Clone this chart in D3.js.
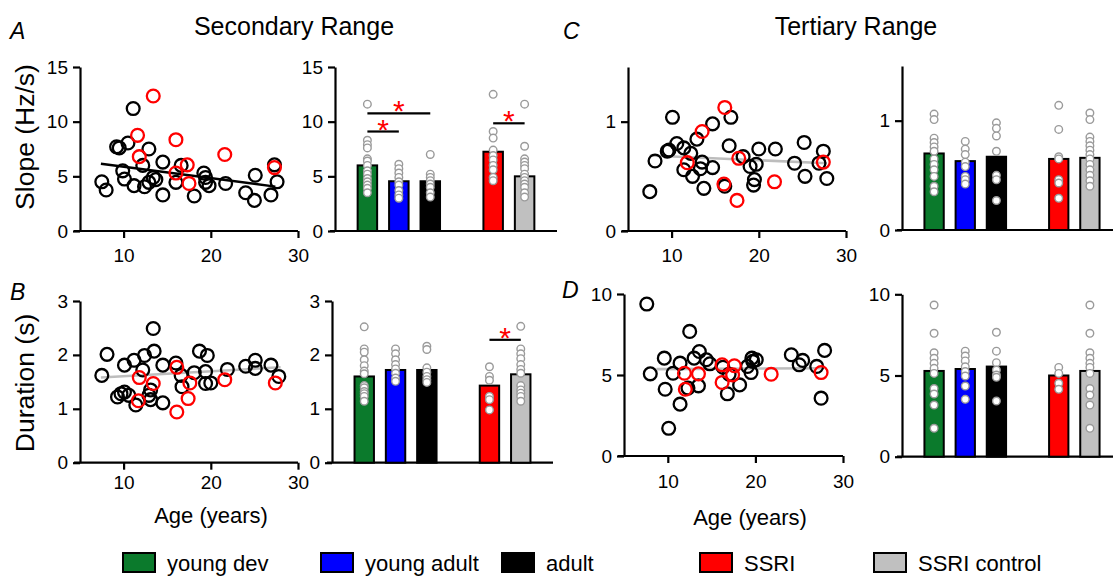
<!DOCTYPE html>
<html><head><meta charset="utf-8">
<script src="https://cdn.jsdelivr.net/npm/d3@7"></script>
<style>
body{margin:0;background:#fff;}
svg{display:block;}
</style></head><body>
<svg id="fig" width="1113" height="576"></svg>
<script>
// ---------- data ----------
const groups = ["young dev", "young adult", "adult", "SSRI", "SSRI control"];
const groupColors = ["#0b7a2c", "#0000ff", "#000000", "#ff0000", "#c0c0c0"];
// bar slots: an empty slot separates the age groups from the SSRI comparison
const barSlots = ["young dev", "young adult", "adult", "gap", "SSRI", "SSRI control"];
const ageTicks = [10, 20, 30];

// Secondary range – slope (Hz/s) vs age
const slopeControls = [[7.5,4.5],[8.0,3.75],[9.2,7.7],[9.5,7.6],[10.5,8.05],[9.9,5.5],[10.1,4.75],[11.1,11.2],[11.2,4.15],[12.2,6.0],[12.4,4.05],[12.9,7.5],[12.9,4.45],[13.4,4.9],[13.7,4.7],[14.5,6.3],[14.5,3.3],[16.0,4.45],[16.6,6.0],[18.1,3.2],[19.2,5.3],[19.4,4.9],[19.4,4.45],[19.8,4.15],[21.7,4.35],[24.0,3.5],[25.0,2.8],[25.1,5.1],[26.9,3.3],[27.3,6.05],[27.6,4.5]];
const slopeSSRI = [[13.4,12.35],[11.6,8.75],[11.8,6.8],[16.0,8.35],[16.0,5.3],[17.3,6.05],[17.5,4.35],[21.6,7.0],[27.3,5.8]];
const slopeFit = [[7.4,6.15],[27.4,4.06]];
const slopeMeans = [6.0, 4.55, 4.55, 7.25, 5.0];
const slopeDots = [
  [11.6, 8.3, 7.9, 7.6, 6.6, 6.4, 6.0, 5.5, 5.2, 4.8, 4.5, 4.2, 3.9, 3.5],
  [6.1, 5.7, 5.3, 4.9, 4.5, 4.2, 3.7, 3.3, 3.0],
  [7.0, 5.2, 4.9, 4.6, 4.3, 4.0, 3.5, 3.1],
  [12.5, 9.1, 8.5, 7.4, 6.9, 6.5, 6.0, 5.6, 4.9, 4.6],
  [11.6, 7.75, 6.6, 6.3, 6.0, 5.7, 5.2, 4.9, 4.6, 4.3, 4.0, 3.5, 3.1]
];
const slopeSig = [
  {from: "young dev", to: "adult", y: 10.75},
  {from: "young dev", to: "young adult", y: 9.1},
  {from: "SSRI", to: "SSRI control", y: 9.85}
];

// Secondary range – duration (s) vs age
const durControls = [[7.5,1.62],[8.1,2.01],[10.1,1.81],[11.2,1.90],[12.4,1.99],[12.2,1.72],[13.4,2.49],[13.5,2.07],[14.5,1.81],[16.0,1.85],[16.6,1.62],[16.7,1.41],[18.1,1.67],[18.7,2.07],[19.6,1.99],[19.4,1.69],[19.4,1.47],[20.0,1.48],[21.9,1.73],[24.0,1.79],[25.1,1.90],[25.1,1.75],[26.9,1.81],[27.8,1.60],[9.3,1.22],[9.7,1.28],[10.1,1.31],[10.6,1.25],[11.4,1.07],[12.9,1.25],[13.1,1.17],[14.5,1.11],[13.1,1.35]];
const durSSRI = [[11.8,1.58],[11.7,1.15],[13.4,1.47],[16.1,1.77],[16.1,0.94],[17.4,1.19],[17.6,1.48],[21.6,1.54],[27.4,1.48]];
const durFit = [[7.4,1.58],[28.0,1.77]];
const durMeans = [1.6, 1.72, 1.72, 1.43, 1.64];
const durDots = [
  [2.52, 2.11, 2.05, 1.91, 1.80, 1.70, 1.65, 1.43, 1.39, 1.32, 1.28, 1.23, 1.14],
  [2.11, 2.02, 1.91, 1.82, 1.74, 1.66, 1.57, 1.51],
  [2.16, 2.10, 1.76, 1.68, 1.60, 1.54, 1.49],
  [1.78, 1.60, 1.53, 1.23, 1.17, 0.98],
  [2.53, 2.11, 2.02, 1.93, 1.82, 1.73, 1.66, 1.43, 1.35, 1.29, 1.23, 1.14]
];
const durSig = [{from: "SSRI", to: "SSRI control", y: 2.28}];

// Tertiary range – slope vs age
const tSlopeControls = [[7.5,0.36],[8.1,0.64],[9.5,0.73],[9.7,0.74],[10.1,1.04],[10.6,0.80],[11.4,0.76],[12.2,0.71],[11.4,0.56],[12.4,0.50],[12.9,0.84],[13.5,0.63],[13.3,0.57],[13.7,0.39],[14.7,0.58],[14.7,0.98],[16.1,0.41],[16.6,0.78],[16.8,1.04],[18.2,0.68],[19.0,0.59],[19.7,0.61],[20.0,0.75],[19.5,0.47],[19.4,0.42],[21.9,0.75],[24.1,0.62],[25.2,0.81],[25.3,0.50],[27.4,0.73],[27.8,0.48],[26.9,0.62]];
const tSlopeSSRI = [[16.1,1.13],[13.5,0.91],[11.8,0.625],[17.7,0.665],[16.0,0.43],[17.5,0.28],[21.8,0.45],[27.4,0.63]];
const tSlopeFit = [[7.5,0.69],[27.8,0.62]];
const tSlopeMeans = [0.70, 0.63, 0.67, 0.65, 0.66];
const tSlopeDots = [
  [1.06, 1.01, 0.84, 0.80, 0.76, 0.72, 0.65, 0.60, 0.55, 0.49, 0.40, 0.35],
  [0.81, 0.74, 0.69, 0.62, 0.58, 0.49, 0.46, 0.42],
  [0.98, 0.93, 0.86, 0.72, 0.50, 0.46, 0.27],
  [1.14, 0.92, 0.67, 0.65, 0.46, 0.43, 0.29],
  [1.07, 1.01, 0.85, 0.81, 0.77, 0.73, 0.69, 0.65, 0.60, 0.55, 0.50, 0.45, 0.40]
];

// Tertiary range – duration vs age
const tDurControls = [[7.6,9.38],[8.0,5.07],[9.6,6.04],[9.7,4.12],[10.1,1.71],[10.6,5.11],[11.4,5.73],[11.4,3.2],[12.5,7.69],[12.3,4.19],[13.0,6.04],[13.6,6.45],[13.5,4.33],[14.4,5.94],[14.8,5.69],[16.3,5.48],[16.8,3.84],[17.0,5.05],[18.2,4.39],[19.1,5.53],[19.5,5.15],[19.7,5.84],[20.1,5.94],[19.6,6.04],[24.1,6.25],[25.0,5.63],[25.4,5.90],[27.0,5.53],[27.5,3.57],[27.9,6.52]];
const tDurSSRI = [[11.9,5.11],[12.0,4.12],[13.5,5.07],[16.2,5.63],[16.2,4.54],[17.6,5.57],[17.4,5.01],[21.8,5.05],[27.5,5.15]];
const tDurFit = [[8.7,5.36],[27.7,5.42]];
const tDurMeans = [5.28, 5.4, 5.55, 5.0, 5.28];
const tDurDots = [
  [9.34, 7.6, 6.4, 6.06, 5.75, 5.44, 5.13, 4.2, 3.86, 3.18, 1.75],
  [6.5, 6.2, 5.9, 5.54, 5.24, 4.97, 4.35, 3.53],
  [7.66, 6.5, 5.79, 5.34, 5.03, 4.89, 3.43],
  [5.5, 5.13, 4.52, 4.15],
  [9.34, 7.6, 6.4, 6.06, 5.75, 5.5, 5.13, 4.2, 3.8, 3.18, 1.75]
];

// ---------- drawing ----------
const FONT = '"Liberation Sans", Arial, Helvetica, sans-serif';
const svg = d3.select("#fig").attr("font-family", FONT);
const AXW = 2.2;
const TICK_FS = 19;

function styleAxis(g, fs) {
  g.selectAll("path.domain").attr("stroke", "#000").attr("stroke-width", AXW).attr("fill", "none");
  g.selectAll(".tick line").attr("stroke", "#000").attr("stroke-width", AXW);
  g.selectAll(".tick text").attr("font-size", fs).attr("fill", "#000").attr("font-family", FONT);
}

function drawYAxis(x0, y, ticks) {
  const g = svg.append("g").attr("transform", `translate(${x0},0)`)
    .call(d3.axisLeft(y).tickValues(ticks).tickFormat(d3.format("d"))
      .tickSize(7).tickPadding(5).tickSizeOuter(0));
  styleAxis(g, TICK_FS);
}

function scatterPanel(o) {
  const x = d3.scaleLinear().domain([5, 30]).range(o.xr);
  const y = d3.scaleLinear().domain(o.yd).range(o.yr);
  const gx = svg.append("g").attr("transform", `translate(0,${o.yr[0]})`)
    .call(d3.axisBottom(x).tickValues(ageTicks).tickFormat(d3.format("d"))
      .tickSize(7).tickPadding(o.pad).tickSizeOuter(0));
  styleAxis(gx, TICK_FS);
  gx.select("path.domain").attr("d", `M${o.xr[0] - 6},0H${o.xr[1]}`);
  drawYAxis(o.xr[0], y, o.yt);

  svg.append("path").datum(o.fit)
    .attr("d", d3.line().x(d => x(d[0])).y(d => y(d[1])))
    .attr("stroke", o.fitColor).attr("stroke-width", o.fitWidth).attr("fill", "none");

  const g = svg.append("g");
  g.selectAll("circle.c").data(o.controls).join("circle")
    .attr("cx", d => x(d[0])).attr("cy", d => y(d[1])).attr("r", 6.4)
    .attr("fill", "none").attr("stroke", "#000").attr("stroke-width", 2.3);
  g.selectAll("circle.s").data(o.ssri).join("circle")
    .attr("cx", d => x(d[0])).attr("cy", d => y(d[1])).attr("r", 6.4)
    .attr("fill", "none").attr("stroke", "#ff0000").attr("stroke-width", 2.3);
}

function barPanel(o) {
  const xb = d3.scaleBand().domain(barSlots).range(o.xr).paddingInner(0.38).paddingOuter(0.72);
  const y = d3.scaleLinear().domain(o.yd).range(o.yr);
  // baseline
  svg.append("line").attr("x1", o.xr[0] - 5).attr("x2", o.xr[1])
    .attr("y1", o.yr[0]).attr("y2", o.yr[0]).attr("stroke", "#000").attr("stroke-width", AXW);
  drawYAxis(o.xr[0], y, o.yt);

  const bars = groups.map((gname, i) => ({name: gname, mean: o.means[i], color: groupColors[i], dots: o.dots[i]}));
  svg.append("g").selectAll("rect").data(bars).join("rect")
    .attr("x", d => xb(d.name)).attr("width", xb.bandwidth())
    .attr("y", d => y(d.mean)).attr("height", d => y(0) - y(d.mean))
    .attr("fill", d => d.color).attr("stroke", "#000").attr("stroke-width", 2);

  const cx = n => xb(n) + xb.bandwidth() / 2;
  bars.forEach(b => {
    svg.append("g").selectAll("circle").data(b.dots).join("circle")
      .attr("cx", cx(b.name)).attr("cy", v => y(v)).attr("r", 3.8)
      .attr("fill", "#fff").attr("stroke", "#9a9a9a").attr("stroke-width", 1.4);
  });

  (o.sig || []).forEach(s => {
    const x1 = cx(s.from), x2 = cx(s.to);
    svg.append("line").attr("x1", x1).attr("x2", x2).attr("y1", y(s.y)).attr("y2", y(s.y))
      .attr("stroke", "#000").attr("stroke-width", 2.2);
    svg.append("text").attr("x", (x1 + x2) / 2).attr("y", y(s.y) + 8)
      .attr("text-anchor", "middle").attr("font-size", 30).attr("fill", "#ff0000").text("*");
  });
}

// A: secondary slope
scatterPanel({xr: [80, 298], yr: [231, 67], yd: [0, 15], yt: [0, 5, 10, 15], pad: 11,
  controls: slopeControls, ssri: slopeSSRI, fit: slopeFit, fitColor: "#000", fitWidth: 2.4});
barPanel({xr: [335, 557], yr: [231, 67], yd: [0, 15], yt: [0, 5, 10, 15],
  means: slopeMeans, dots: slopeDots, sig: slopeSig});

// B: secondary duration
scatterPanel({xr: [80, 298], yr: [462.7, 301], yd: [0, 3], yt: [0, 1, 2, 3], pad: 6,
  controls: durControls, ssri: durSSRI, fit: durFit, fitColor: "#bdbdbd", fitWidth: 2.6});
barPanel({xr: [332, 553], yr: [462.7, 301], yd: [0, 3], yt: [0, 1, 2, 3],
  means: durMeans, dots: durDots, sig: durSig});

// C: tertiary slope
scatterPanel({xr: [628, 846], yr: [231, 67], yd: [0, 1.5], yt: [0, 1], pad: 11,
  controls: tSlopeControls, ssri: tSlopeSSRI, fit: tSlopeFit, fitColor: "#bdbdbd", fitWidth: 2.6});
barPanel({xr: [902, 1122], yr: [230, 66], yd: [0, 1.5], yt: [0, 1],
  means: tSlopeMeans, dots: tSlopeDots});

// D: tertiary duration
scatterPanel({xr: [624, 843], yr: [456, 294], yd: [0, 10], yt: [0, 5, 10], pad: 12,
  controls: tDurControls, ssri: tDurSSRI, fit: tDurFit, fitColor: "#bdbdbd", fitWidth: 2.6});
barPanel({xr: [902, 1122], yr: [456.7, 294.3], yd: [0, 10], yt: [0, 5, 10],
  means: tDurMeans, dots: tDurDots});

// ---------- text ----------
const txt = (x, y, s, size, extra = {}) => {
  const t = svg.append("text").attr("x", x).attr("y", y).attr("font-size", size).attr("fill", "#000").text(s);
  Object.entries(extra).forEach(([k, v]) => t.attr(k, v));
  return t;
};
txt(294, 35, "Secondary Range", 25, {"text-anchor": "middle"});
txt(856, 35, "Tertiary Range", 25, {"text-anchor": "middle"});
[["A", 10, 39], ["C", 563, 39], ["B", 10, 300], ["D", 562, 298]].forEach(([s, x, y]) =>
  txt(x, y, s, 23, {"font-style": "italic"}));
txt(0, 0, "Slope (Hz/s)", 26.5, {"text-anchor": "middle", transform: "translate(34,137) rotate(-90)"});
txt(0, 0, "Duration (s)", 26.5, {"text-anchor": "middle", transform: "translate(34,383) rotate(-90)"});
txt(211, 523, "Age (years)", 22, {"text-anchor": "middle"});
txt(750, 525, "Age (years)", 22, {"text-anchor": "middle"});

// legend
const legendX = [123, 321, 502, 700, 874];
const lg = svg.append("g");
groups.forEach((gname, i) => {
  lg.append("rect").attr("x", legendX[i]).attr("y", 553).attr("width", 32).attr("height", 19)
    .attr("fill", groupColors[i]).attr("stroke", "#000").attr("stroke-width", 2);
  txt(legendX[i] + 44, 571, gname, 22);
});
</script>
</body></html>
